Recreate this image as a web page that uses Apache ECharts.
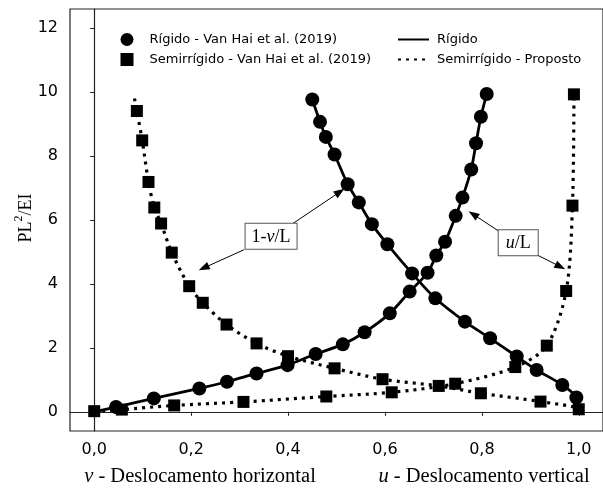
<!DOCTYPE html>
<html>
<head>
<meta charset="utf-8">
<script src="https://cdn.jsdelivr.net/npm/echarts@6/dist/echarts.min.js"></script>
<style>
  html, body { margin: 0; padding: 0; background: #fff; }
  #main { width: 603px; height: 488px; }
</style>
</head>
<body>
<div id="main"></div>
<script>
// pontos Van Hai et al. (2019) - portico rigido
var rigidoH = [[0.450, 9.77], [0.466, 9.07], [0.478, 8.60], [0.496, 8.05], [0.523, 7.12], [0.546, 6.55],
  [0.573, 5.87], [0.605, 5.24], [0.656, 4.33], [0.704, 3.55], [0.765, 2.82], [0.817, 2.30],
  [0.872, 1.73], [0.913, 1.31], [0.966, 0.84], [0.995, 0.45]];   // 1 - v/L
var rigidoV = [[0.045, 0.15], [0.123, 0.42], [0.217, 0.73], [0.274, 0.94], [0.335, 1.20], [0.399, 1.46],
  [0.457, 1.81], [0.513, 2.11], [0.558, 2.49], [0.610, 3.08], [0.651, 3.76], [0.688, 4.35],
  [0.706, 4.89], [0.724, 5.32], [0.746, 6.13], [0.760, 6.70], [0.778, 7.58], [0.788, 8.40],
  [0.798, 9.23], [0.810, 9.94]];                                    // u/L
// pontos Van Hai et al. (2019) - portico semirrigido
var semiH = [[0.088, 9.41], [0.099, 8.49], [0.112, 7.19], [0.124, 6.39], [0.138, 5.89], [0.160, 4.98],
  [0.196, 3.93], [0.224, 3.41], [0.273, 2.73], [0.335, 2.14], [0.400, 1.74], [0.496, 1.36],
  [0.595, 1.02], [0.711, 0.81], [0.798, 0.58], [0.921, 0.32], [1.000, 0.08]];
var semiV = [[0.000, 0.02], [0.057, 0.07], [0.165, 0.20], [0.308, 0.31], [0.479, 0.48], [0.614, 0.61],
  [0.745, 0.88], [0.869, 1.40], [0.934, 2.07], [0.974, 3.78], [0.987, 6.45], [0.990, 9.93]];
// curvas do modelo (passam pelos pontos, com as extremidades)
var curvaRigidoH = rigidoH.concat([[1.0, 0.0]]);
var curvaRigidoV = [[0.0, 0.0]].concat(rigidoV);
var curvaSemiH = [[0.083, 9.80]].concat(semiH).concat([[1.0, 0.0]]);
var curvaSemiV = semiV;

var xTicks = [0, 0.2, 0.4, 0.6, 0.8, 1.0];
var yTicks = [0, 2, 4, 6, 8, 10, 12];

var SANS = 'DejaVu Sans';
var SERIF = 'Liberation Serif';

var myChart = echarts.init(document.getElementById('main'));

var linha = function (name, data, dotted) {
  return {
    name: name,
    type: 'line',
    data: data,
    smooth: 0.3,
    symbol: 'none',
    z: 2,
    itemStyle: { color: '#000' },
    lineStyle: dotted
      ? { color: '#000', width: 3.2, type: [3, 5], cap: 'butt' }
      : { color: '#000', width: 2.8 }
  };
};

var seta = function (a, b) {
  return [{ coord: a }, { coord: b }];
};

var option = {
  animation: false,
  grid: {
    left: 70, top: 9, right: -12, bottom: 57,
    show: true, borderColor: '#222', borderWidth: 1.2
  },
  legend: [{
    data: ['Rígido - Van Hai et al. (2019)', 'Semirrígido - Van Hai et al. (2019)'],
    orient: 'vertical',
    left: 120.5, top: 33, padding: 0,
    itemWidth: 13, itemHeight: 13, itemGap: 7,
    selectedMode: false,
    textStyle: { fontFamily: SANS, fontSize: 13, color: '#000', padding: [0, 0, 0, 11] }
  }, {
    data: ['Rígido', 'Semirrígido - Proposto'],
    orient: 'vertical',
    left: 397, top: 33, padding: 0,
    itemWidth: 31, itemHeight: 13, itemGap: 7,
    selectedMode: false,
    itemStyle: { opacity: 0 },
    textStyle: { fontFamily: SANS, fontSize: 13, color: '#000', padding: [0, 0, 0, 3] }
  }],
  xAxis: {
    type: 'value',
    min: -0.05, max: 1.05,
    splitLine: { show: false },
    axisLine: { lineStyle: { color: '#222', width: 1.2 } },
    axisTick: { customValues: xTicks, length: 4, lineStyle: { color: '#222' } },
    axisLabel: {
      customValues: xTicks,
      margin: 11,
      fontFamily: SANS, fontSize: 16, color: '#000',
      formatter: function (v) { return v.toFixed(1).replace('.', ','); }
    }
  },
  yAxis: {
    type: 'value',
    min: -0.6, max: 12.6,
    splitLine: { show: false },
    axisLine: { show: true, lineStyle: { color: '#222', width: 1.2 } },
    axisTick: { show: true, customValues: yTicks, length: 4, lineStyle: { color: '#222' } },
    axisLabel: {
      customValues: yTicks,
      margin: 12,
      fontFamily: SANS, fontSize: 16, color: '#000'
    }
  },
  series: [
    linha('Rígido', curvaRigidoH, false),
    linha('Rígido', curvaRigidoV, false),
    linha('Semirrígido - Proposto', curvaSemiH, true),
    linha('Semirrígido - Proposto', curvaSemiV, true),
    {
      name: 'Rígido - Van Hai et al. (2019)',
      type: 'scatter',
      data: rigidoH.concat(rigidoV),
      symbol: 'circle',
      symbolSize: 14,
      z: 3,
      itemStyle: { color: '#000', opacity: 1 }
    },
    {
      name: 'Semirrígido - Van Hai et al. (2019)',
      type: 'scatter',
      data: semiH.concat(semiV),
      symbol: 'rect',
      symbolSize: 12,
      z: 3,
      itemStyle: { color: '#000', opacity: 1 }
    },
    {
      // anotacoes 1-v/L e u/L
      type: 'line',
      data: [],
      silent: true,
      z: 4,
      markLine: {
        silent: true,
        symbol: ['none', 'triangle'],
        symbolSize: [8, 11],
        label: { show: false },
        lineStyle: { color: '#000', width: 1, type: 'solid' },
        emphasis: { disabled: true },
        data: [
          seta([0.410, 5.89], [0.507, 6.88]),
          seta([0.309, 5.07], [0.226, 4.50]),
          seta([0.834, 5.66], [0.782, 6.18]),
          seta([0.915, 4.90], [0.962, 4.54])
        ]
      },
      markPoint: {
        silent: true,
        symbol: 'rect',
        symbolSize: 1,
        itemStyle: { color: 'transparent' },
        label: {
          show: true,
          position: 'inside',
          backgroundColor: '#fff',
          borderColor: '#555',
          borderWidth: 1,
          padding: [4, 6, 3, 6],
          color: '#000',
          rich: {
            t: { fontFamily: SERIF, fontSize: 18, color: '#000' },
            i: { fontFamily: SERIF, fontSize: 18, fontStyle: 'italic', color: '#000' }
          }
        },
        data: [
          { coord: [0.365, 5.49], label: { formatter: '{t|1-}{i|v}{t|/L}' } },
          { coord: [0.875, 5.29], label: { formatter: '{i|u}{t|/L}', padding: [4, 7, 3, 7] } }
        ]
      }
    }
  ],
  graphic: [{
    type: 'text',
    x: 200, y: 477,
    style: {
      text: '{i|v} - Deslocamento horizontal',
      align: 'center', verticalAlign: 'middle',
      fill: '#000', font: '20.5px "Liberation Serif"',
      rich: { i: { fontStyle: 'italic', fontFamily: SERIF, fontSize: 20.5 } }
    }
  }, {
    type: 'text',
    x: 484, y: 477,
    style: {
      text: '{i|u} - Deslocamento vertical',
      align: 'center', verticalAlign: 'middle',
      fill: '#000', font: '20.5px "Liberation Serif"',
      rich: { i: { fontStyle: 'italic', fontFamily: SERIF, fontSize: 20.5 } }
    }
  }, {
    type: 'text',
    x: 24, y: 218,
    rotation: Math.PI / 2,
    style: {
      text: '{a|PL}{s|2}{a|/EI}',
      align: 'center', verticalAlign: 'middle',
      fill: '#000',
      rich: {
        a: { fontFamily: SERIF, fontSize: 18, verticalAlign: 'bottom', lineHeight: 22 },
        s: { fontFamily: SERIF, fontSize: 12, verticalAlign: 'top', lineHeight: 22 }
      }
    }
  }]
};

myChart.setOption(option);
</script>
</body>
</html>
